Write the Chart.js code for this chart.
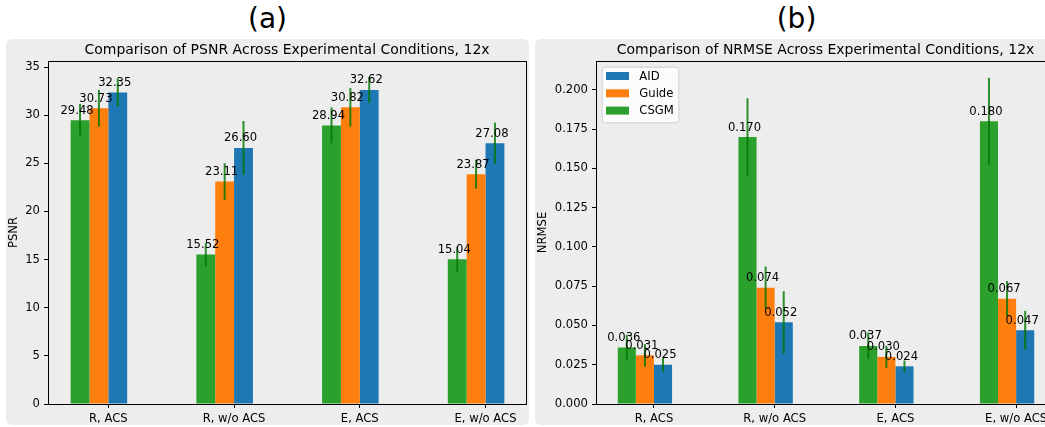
<!DOCTYPE html>
<html>
<head>
<meta charset="utf-8">
<title>PSNR and NRMSE across experimental conditions</title>
<script src="https://cdn.jsdelivr.net/npm/chart.js@4.4.1/dist/chart.umd.min.js"></script>
<style>
  html, body { margin: 0; padding: 0; background: #ffffff; width: 1045px; height: 427px; overflow: hidden; position: relative; font-family: "DejaVu Sans", sans-serif; }
  .panel { position: absolute; top: 39px; width: 523px; height: 386px; background: #ededed; border-radius: 6px; overflow: hidden; }
  .panel canvas { position: absolute; left: 0; top: 0; }
  .tag { position: absolute; top: 0; width: 523px; text-align: center; font-size: 28px; line-height: 38px; color: #000; }
</style>
</head>
<body>
<div class="tag" style="left:6px">(a)</div>
<div class="tag" style="left:535px">(b)</div>
<div class="panel" style="left:6px"><canvas id="psnrChart" width="523" height="386"></canvas></div>
<div class="panel" style="left:535px"><canvas id="nrmseChart" width="523" height="386"></canvas></div>
<script>
// Experimental conditions (x axis)
const categories = ['R, ACS', 'R, w/o ACS', 'E, ACS', 'E, w/o ACS'];
const methods = ['CSGM', 'Guide', 'AID'];

// PSNR means and standard deviations
const psnrCSGM  = [29.48, 15.52, 28.94, 15.04];
const psnrGuide = [30.73, 23.11, 30.82, 23.87];
const psnrAID   = [32.35, 26.60, 32.62, 27.08];
const psnrErrCSGM  = [1.70, 1.20, 1.87, 1.30];
const psnrErrGuide = [1.90, 1.90, 2.00, 1.50];
const psnrErrAID   = [1.47, 2.80, 1.35, 2.15];

// NRMSE means and standard deviations
const nrmseCSGM  = [0.036, 0.170, 0.037, 0.180];
const nrmseGuide = [0.031, 0.074, 0.030, 0.067];
const nrmseAID   = [0.025, 0.052, 0.024, 0.047];
const nrmseErrCSGM  = [0.0080, 0.0247, 0.0085, 0.0277];
const nrmseErrGuide = [0.0072, 0.0135, 0.0070, 0.0113];
const nrmseErrAID   = [0.0045, 0.0198, 0.0037, 0.0123];

// Y axis tick values
const psnrTicks  = [0, 5, 10, 15, 20, 25, 30, 35];
const nrmseTicks = [0, 0.025, 0.05, 0.075, 0.1, 0.125, 0.15, 0.175, 0.2];

const FONT = '"DejaVu Sans", sans-serif';
const methodColors = { CSGM: '#2ca02c', Guide: '#ff7f0e', AID: '#1f77b4' };
const errColor = 'rgba(0, 120, 0, 0.82)';

// Error bars, value labels, axes frame, titles and legend for one chart
function decorPlugin(o) {
  return {
    id: 'decor',
    afterDatasetsDraw(chart) {
      const { ctx, scales: { y } } = chart;
      ctx.save();
      ctx.strokeStyle = errColor;
      ctx.lineWidth = 2;
      chart.data.datasets.forEach((ds, di) => {
        if (!ds.errors) return;
        chart.getDatasetMeta(di).data.forEach((bar, i) => {
          const v = ds.data[i].y, e = ds.errors[i];
          ctx.beginPath();
          ctx.moveTo(bar.x, y.getPixelForValue(v + e));
          ctx.lineTo(bar.x, y.getPixelForValue(v - e));
          ctx.stroke();
        });
      });
      ctx.fillStyle = '#000';
      ctx.font = '11.6px ' + FONT;
      ctx.textAlign = 'center';
      ctx.textBaseline = 'alphabetic';
      chart.data.datasets.forEach((ds, di) => {
        if (!ds.errors) return;
        chart.getDatasetMeta(di).data.forEach((bar, i) => {
          ctx.fillText(o.fmt(ds.data[i].y), bar.x - 3, bar.y - 6.5);
        });
      });
      ctx.restore();
    },
    afterDraw(chart) {
      const { ctx, chartArea: a } = chart;
      ctx.save();
      ctx.strokeStyle = '#000';
      ctx.lineWidth = 1;
      ctx.strokeRect(a.left + 0.5, a.top + 0.5, a.right - a.left, a.bottom - a.top);
      ctx.fillStyle = '#000';
      ctx.font = '14px ' + FONT;
      ctx.textAlign = 'center';
      ctx.textBaseline = 'alphabetic';
      ctx.fillText(o.title, (a.left + a.right) / 2, 15);
      ctx.save();
      ctx.translate(o.yTitleX, (a.top + a.bottom) / 2);
      ctx.rotate(-Math.PI / 2);
      ctx.font = '11.6px ' + FONT;
      ctx.textBaseline = 'middle';
      ctx.fillText(o.yTitle, 0, 0);
      ctx.restore();
      if (o.legend) {
        const bx = a.left + 5.7, by = a.top + 5.7, bw = 76.6, bh = 55.6;
        ctx.beginPath();
        ctx.roundRect(bx + 0.5, by + 0.5, bw, bh, 3);
        ctx.fillStyle = 'rgba(255,255,255,0.8)';
        ctx.fill();
        ctx.strokeStyle = '#d0d0d0';
        ctx.stroke();
        const order = ['AID', 'Guide', 'CSGM'];
        ctx.font = '11.6px ' + FONT;
        ctx.textAlign = 'left';
        ctx.textBaseline = 'middle';
        order.forEach((name, k) => {
          const cy = a.top + 15 + k * 17.3;
          ctx.fillStyle = methodColors[name];
          ctx.fillRect(a.left + 10, cy - 4, 23, 8);
          ctx.fillStyle = '#000';
          ctx.fillText(name, a.left + 43.3, cy + 0.5);
        });
      }
      ctx.restore();
    }
  };
}

function makeChart(id, cfg) {
  const datasets = cfg.series.map(s => ({
    label: s.name,
    data: categories.map((c, i) => ({ x: i, y: s.values[i] })),
    errors: s.errors,
    backgroundColor: methodColors[s.name],
    borderWidth: 0,
    categoryPercentage: 0.6,
    barPercentage: 1.0
  }));
  // empty slot so the three bars sit left of each tick
  datasets.push({
    label: '',
    data: categories.map((c, i) => ({ x: i, y: null })),
    backgroundColor: 'rgba(0,0,0,0)',
    borderWidth: 0,
    categoryPercentage: 0.6,
    barPercentage: 1.0
  });
  const tickFont = { family: FONT, size: 11.6 };
  return new Chart(document.getElementById(id), {
    type: 'bar',
    data: { datasets },
    options: {
      responsive: false,
      animation: false,
      events: [],
      layout: { padding: { top: 22, right: 3, left: 0, bottom: 0 } },
      plugins: {
        legend: { display: false },
        tooltip: { enabled: false }
      },
      scales: {
        x: {
          type: 'linear',
          min: -0.48,
          max: 3.322,
          offset: false,
          afterBuildTicks: s => { s.ticks = categories.map((c, i) => ({ value: i })); },
          afterFit: s => { s.height = 21; },
          grid: { offset: false, drawOnChartArea: false, drawTicks: true, tickLength: 4, color: '#000', lineWidth: 1 },
          border: { display: false },
          ticks: { color: '#000', font: tickFont, padding: 4, maxRotation: 0, autoSkip: false,
                   callback: v => categories[v] }
        },
        y: {
          type: 'linear',
          min: 0,
          max: cfg.yMax,
          afterBuildTicks: s => { s.ticks = cfg.ticks.map(v => ({ value: v })); },
          afterFit: s => { s.width = cfg.yAxisWidth; },
          grid: { drawOnChartArea: false, drawTicks: true, tickLength: 4, color: '#000', lineWidth: 1 },
          border: { display: false },
          ticks: { color: '#000', font: tickFont, padding: 4, callback: v => cfg.tickFmt(v) }
        }
      }
    },
    plugins: [decorPlugin(cfg.decor)]
  });
}

makeChart('psnrChart', {
  series: [
    { name: 'CSGM', values: psnrCSGM, errors: psnrErrCSGM },
    { name: 'Guide', values: psnrGuide, errors: psnrErrGuide },
    { name: 'AID', values: psnrAID, errors: psnrErrAID }
  ],
  yMax: 35.63,
  ticks: psnrTicks,
  yAxisWidth: 42,
  tickFmt: v => String(v),
  decor: {
    title: 'Comparison of PSNR Across Experimental Conditions, 12x',
    yTitle: 'PSNR', yTitleX: 7.5,
    fmt: v => v.toFixed(2),
    legend: false
  }
});

makeChart('nrmseChart', {
  series: [
    { name: 'CSGM', values: nrmseCSGM, errors: nrmseErrCSGM },
    { name: 'Guide', values: nrmseGuide, errors: nrmseErrGuide },
    { name: 'AID', values: nrmseAID, errors: nrmseErrAID }
  ],
  yMax: 0.2184,
  ticks: nrmseTicks,
  yAxisWidth: 61,
  tickFmt: v => v.toFixed(3),
  decor: {
    title: 'Comparison of NRMSE Across Experimental Conditions, 12x',
    yTitle: 'NRMSE', yTitleX: 8,
    fmt: v => v.toFixed(3),
    legend: true
  }
});
</script>
</body>
</html>
